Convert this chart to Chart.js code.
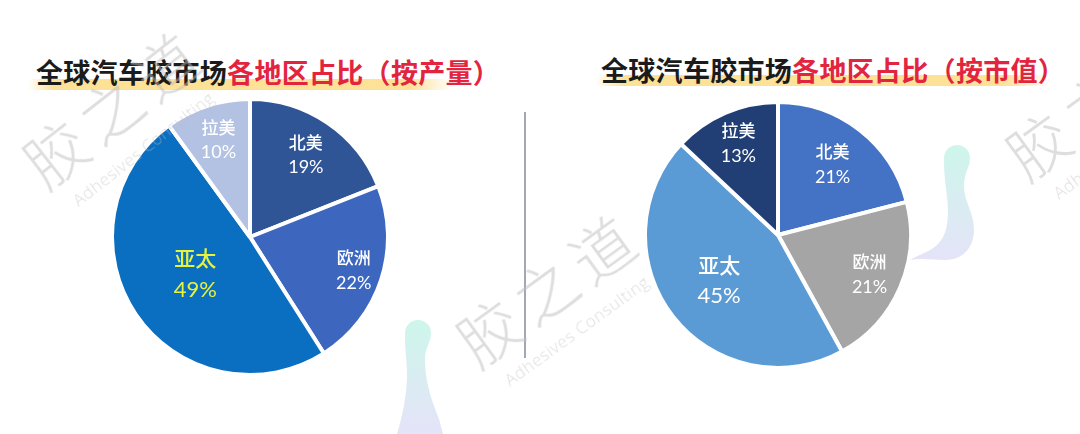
<!DOCTYPE html>
<html>
<head>
<meta charset="utf-8">
<script src="https://cdn.jsdelivr.net/npm/chart.js@4.4.1/dist/chart.umd.min.js"></script>
<style>
    html, body { margin: 0; padding: 0; background: #fff; }
    body { width: 1080px; height: 434px; position: relative; overflow: hidden; font-family: 'Noto Sans CJK SC', sans-serif; }
    .title { position: absolute; font-size: 27px; font-weight: bold; white-space: nowrap; z-index: 2; letter-spacing: 0.3px; }
    .title .blk { color: #1b1b1b; }
    .title .red { color: #e3243f; }
    .hl { position: absolute; height: 11px; z-index: 1;
          background: linear-gradient(to right, rgba(252,222,140,0) 0%, rgba(252,222,140,0.9) 6%, rgba(252,222,140,0.9) 90%, rgba(252,222,140,0) 100%); }
    .divider { position: absolute; left: 524px; top: 112px; width: 1.5px; height: 246px; background: #9ea8b8; }
    .wm { position: absolute; color: rgba(190,190,190,0.5); font-weight: 300; white-space: nowrap; transform-origin: 0 0; z-index: 3; pointer-events: none; }
    .wm .cn { font-size: 62px; letter-spacing: 8px; }
    .wm .en { font-family: 'Open Sans', sans-serif; font-size: 17px; letter-spacing: 0.6px; display: block; margin-left: 16px; margin-top: -4px; }
    canvas { position: absolute; z-index: 2; }
    svg { position: absolute; left: 0; top: 0; z-index: 0; }
</style>
</head>
<body>
<svg width="1080" height="434">
    <defs>
        <linearGradient id="blob" x1="0" y1="0" x2="0" y2="1">
            <stop offset="0" stop-color="#bdf3e4"/>
            <stop offset="1" stop-color="#dcdaf6"/>
        </linearGradient>
    </defs>
    <path d="M405,333 a13,13 0 1 1 26,0 c0,10 -6,14 -6,26 c0,22 6,40 14,60 l4,15 l-46,0 c6,-20 10,-40 10,-60 c0,-14 -2,-20 -2,-41 z" fill="url(#blob)" opacity="0.75"/>
    <path d="M944,158 a13,13 0 1 1 26,0 c0,10 -6,14 -6,28 c0,16 10,26 10,44 c0,18 -12,30 -28,30 c-14,0 -24,-2 -36,0 c10,-6 20,-8 28,-16 c8,-8 10,-20 10,-34 c0,-14 -4,-26 -4,-52 z" fill="url(#blob)" opacity="0.75"/>
</svg>

<div class="hl" style="left:28px; top:79px; width:424px;"></div>
<div class="title" style="left:36px; top:52px;"><span class="blk">全球汽车胶市场</span><span class="red">各地区占比（按产量）</span></div>

<div class="hl" style="left:596px; top:75px; width:454px;"></div>
<div class="title" style="left:601px; top:50px;"><span class="blk">全球汽车胶市场</span><span class="red">各地区占比（按市值）</span></div>

<div class="divider"></div>

<canvas id="volumeChart" width="280" height="280" style="left:110px; top:97px;"></canvas>
<canvas id="valueChart" width="270" height="270" style="left:643px; top:100px;"></canvas>

<div class="wm" style="left:2px; top:135px; transform: rotate(-38deg);"><span class="cn">胶之道</span><span class="en">Adhesives Consulting</span></div>
<div class="wm" style="left:436px; top:312px; transform: rotate(-36deg);"><span class="cn">胶之道</span><span class="en">Adhesives Consulting</span></div>
<div class="wm" style="left:985px; top:125px; transform: rotate(-36deg);"><span class="cn">胶之道</span><span class="en">Adhesives Consulting</span></div>

<script>
// regions, clockwise from 12 o'clock
const regions = ['北美', '欧洲', '亚太', '拉美'];
const volumeShare = [19, 22, 49, 10]; // 按产量 (%)
const valueShare = [21, 21, 45, 13];  // 按市值 (%)

// draws "name / xx%" inside each slice
const sliceLabels = {
    id: 'sliceLabels',
    afterDatasetsDraw(chart, args, opts) {
        const ctx = chart.ctx;
        const meta = chart.getDatasetMeta(0);
        const values = chart.data.datasets[0].data;
        ctx.save();
        ctx.textAlign = 'center';
        ctx.textBaseline = 'middle';
        meta.data.forEach((arc, i) => {
            const p = arc.getProps(['x', 'y', 'startAngle', 'endAngle', 'outerRadius'], true);
            const mid = (p.startAngle + p.endAngle) / 2;
            const r = p.outerRadius * opts.radius[i];
            const cx = p.x + Math.cos(mid) * r;
            const cy = p.y + Math.sin(mid) * r;
            const size = opts.size[i];
            const gap = size * 0.75;
            ctx.fillStyle = opts.color[i];
            ctx.font = '500 ' + size + "px 'Noto Sans CJK SC', sans-serif";
            ctx.fillText(chart.data.labels[i], cx, cy - gap);
            ctx.font = (size + 1) + "px 'Lato', 'Noto Sans CJK SC', sans-serif";
            ctx.fillText(values[i] + '%', cx, cy + gap);
        });
        ctx.restore();
    }
};

function makePie(id, values, colors, labelOpts) {
    const ctx = document.getElementById(id).getContext('2d');
    return new Chart(ctx, {
        type: 'pie',
        data: {
            labels: regions,
            datasets: [{
                data: values,
                backgroundColor: colors,
                borderColor: '#ffffff',
                borderWidth: 4
            }]
        },
        options: {
            responsive: false,
            animation: false,
            layout: { padding: 0 },
            plugins: {
                legend: { display: false },
                tooltip: { enabled: false },
                sliceLabels: labelOpts
            }
        },
        plugins: [sliceLabels]
    });
}

makePie('volumeChart', volumeShare,
    ['#2f5597', '#3d67be', '#0b6fc1', '#b3c1e2'],
    {
        radius: [0.72, 0.79, 0.48, 0.74],
        size: [17, 17, 21, 17],
        color: ['#ffffff', '#ffffff', '#e6f23c', '#ffffff']
    });

makePie('valueChart', valueShare,
    ['#4472c4', '#a5a5a5', '#5b9bd5', '#213f74'],
    {
        radius: [0.67, 0.75, 0.56, 0.75],
        size: [17, 17, 21, 17],
        color: ['#ffffff', '#ffffff', '#ffffff', '#ffffff']
    });
</script>
</body>
</html>
